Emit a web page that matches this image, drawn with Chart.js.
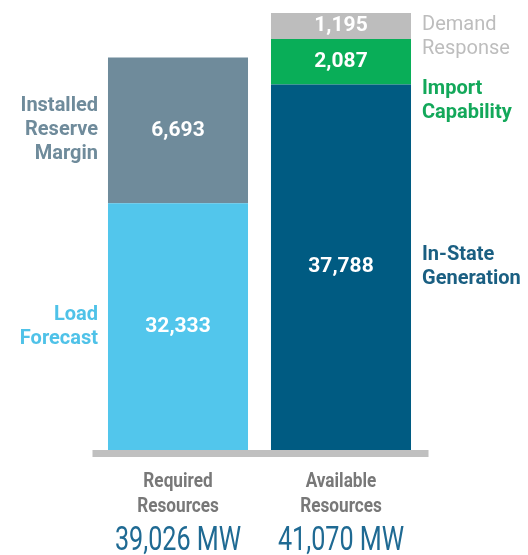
<!DOCTYPE html>
<html>
<head>
<meta charset="utf-8">
<script src="https://cdn.jsdelivr.net/npm/chart.js@4.4.1/dist/chart.umd.min.js"></script>
<style>
  html, body { margin: 0; padding: 0; background: #ffffff; }
  #wrap { width: 528px; height: 555px; }
</style>
</head>
<body>
<div id="wrap"><canvas id="c" width="528" height="555"></canvas></div>
<script>
// ---- data ----
const categories = ["Required\nResources", "Available\nResources"];
const loadForecast = [32333, null];
const reserveMargin = [6693, null];
const inStateGeneration = [null, 37788];
const importCapability = [null, 2087];
const demandResponse = [null, 1195];
const seriesLines = [
  ["Load", "Forecast"],
  ["Installed", "Reserve", "Margin"],
  ["In-State", "Generation"],
  ["Import", "Capability"],
  ["Demand", "Response"]
];
const seriesNames = ["Load Forecast", "Installed Reserve Margin", "In-State Generation", "Import Capability", "Demand Response"];
const unit = "MW";

// ---- styles ----
const barColors = ["#52c6ec", "#6f8b9b", "#005b82", "#09ae58", "#bdbdbd"];
const sideTextColors = ["#4fc2e8", "#6f8b9b", "#1a5f82", "#13a85a", "#bdbdbd"];
const sideTextWeights = ["bold", "bold", "bold", "bold", "normal"];
const seriesData = [loadForecast, reserveMargin, inStateGeneration, importCapability, demandResponse];

const totals = categories.map((_, i) => seriesData.reduce((s, arr) => s + (arr[i] || 0), 0));
const fmt = v => v.toLocaleString("en-US");

const annotate = {
  id: "annotate",
  afterDatasetsDraw(chart) {
    const ctx = chart.ctx;
    const area = chart.chartArea;
    ctx.save();
    // baseline
    ctx.fillStyle = "#c0c0c0";
    ctx.fillRect(area.left - 4, area.bottom, area.right - area.left + 10, 7);

    const lh = 24;
    const sideItems = [[], []];
    chart.data.datasets.forEach((ds, di) => {
      const meta = chart.getDatasetMeta(di);
      meta.data.forEach((el, i) => {
        const v = ds.data[i];
        if (v === null || v === undefined) return;
        const top = Math.max(el.y, area.top);
        const bottom = Math.min(el.base, area.bottom);
        const cy = (top + bottom) / 2;
        ctx.fillStyle = "#ffffff";
        ctx.font = "bold 21px Roboto";
        ctx.textAlign = "center";
        ctx.textBaseline = "middle";
        ctx.fillText(fmt(v), el.x, cy);
        sideItems[i].push({ di, el, cy });
      });
    });

    // side labels, placed top-down without overlap
    sideItems.forEach((items, i) => {
      items.sort((a, b) => a.cy - b.cy);
      let minFirst = area.top + 12;
      items.forEach(it => {
        const lines = seriesLines[it.di];
        let first = it.cy - (lines.length - 1) * lh / 2;
        if (first < minFirst) first = minFirst;
        ctx.fillStyle = sideTextColors[it.di];
        ctx.font = sideTextWeights[it.di] + " 20px Roboto";
        ctx.textBaseline = "middle";
        const leftSide = i === 0;
        ctx.textAlign = leftSide ? "right" : "left";
        const tx = leftSide ? it.el.x - it.el.width / 2 - 10 : it.el.x + it.el.width / 2 + 11;
        lines.forEach((ln, k) => ctx.fillText(ln, tx, first + k * lh));
        minFirst = first + (lines.length - 1) * lh + 40;
      });
    });

    // category labels and totals
    const xs = chart.scales.x;
    categories.forEach((c, i) => {
      const x = xs.getPixelForValue(i);
      const lines = c.split("\n");
      ctx.fillStyle = "#787878";
      ctx.font = "bold 20px Roboto";
      ctx.textAlign = "center";
      ctx.textBaseline = "alphabetic";
      lines.forEach((ln, k) => {
        ctx.save();
        ctx.translate(x, area.bottom + 37 + k * 25);
        ctx.scale(0.86, 1);
        ctx.fillText(ln, 0, 0);
        ctx.restore();
      });
      ctx.fillStyle = "#1f6a93";
      ctx.font = "normal 34px Roboto";
      ctx.save();
      ctx.translate(x, area.bottom + 100);
      ctx.scale(0.74, 1);
      ctx.fillText(fmt(totals[i]) + " " + unit, 0, 0);
      ctx.restore();
    });
    ctx.restore();
  }
};

new Chart(document.getElementById("c"), {
  type: "bar",
  data: {
    labels: categories,
    datasets: seriesData.map((d, i) => ({
      label: seriesNames[i],
      data: d,
      backgroundColor: barColors[i],
      borderWidth: 0,
      clip: 0,
      categoryPercentage: 0.859,
      barPercentage: 1
    }))
  },
  options: {
    responsive: false,
    animation: false,
    layout: { padding: { left: 96.5, right: 105.5, top: 13, bottom: 105 } },
    plugins: { legend: { display: false }, tooltip: { enabled: false } },
    scales: {
      x: { stacked: true, display: false },
      y: { stacked: true, display: false, min: 21000, max: Math.max(...totals) }
    }
  },
  plugins: [annotate]
});
</script>
</body>
</html>
